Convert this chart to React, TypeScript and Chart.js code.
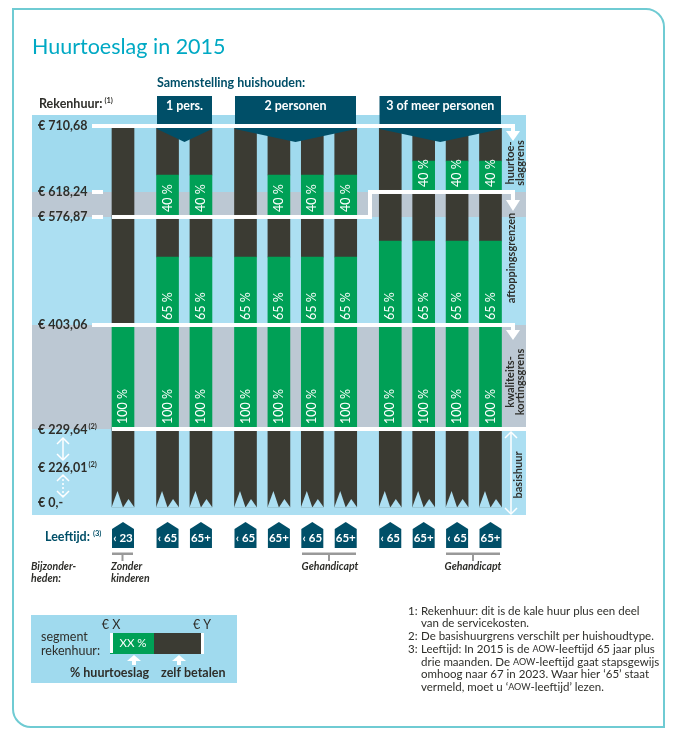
import React, { useEffect, useRef } from "react";
import { Chart, registerables, LinearScale } from "chart.js";

Chart.register(...registerables);

// ---- data ----
const categories = [
  "< 23", "", "", "",
  "< 65", "", "", "65+", "", "", "",
  "< 65", "", "", "65+", "", "", "< 65 G", "", "", "65+ G", "", "", "",
  "< 65", "", "", "65+", "", "", "< 65 G", "", "", "65+ G",
];
const ageLabels = ["‹ 23", "‹ 65", "65+", "‹ 65", "65+", "‹ 65", "65+", "‹ 65", "65+", "‹ 65", "65+"];

const TOP = 710.68, KWAL = 403.06, BASIS = 229.64, AF1 = 576.87, AF2 = 618.24;
const G65A = 512.5, G65B = 538.2, G40A = 642, G40B = 661.6;
type R = [number, number] | null;

const basisRent: R[] = [[0, BASIS], [0, BASIS], [0, BASIS], [0, BASIS], [0, BASIS], [0, BASIS], [0, BASIS], [0, BASIS], [0, BASIS], [0, BASIS], [0, BASIS]];
const pct100: R[] = [[BASIS, KWAL], [BASIS, KWAL], [BASIS, KWAL], [BASIS, KWAL], [BASIS, KWAL], [BASIS, KWAL], [BASIS, KWAL], [BASIS, KWAL], [BASIS, KWAL], [BASIS, KWAL], [BASIS, KWAL]];
const pct65: R[] = [null, [KWAL, G65A], [KWAL, G65A], [KWAL, G65A], [KWAL, G65A], [KWAL, G65A], [KWAL, G65A], [KWAL, G65B], [KWAL, G65B], [KWAL, G65B], [KWAL, G65B]];
const selfMid: R[] = [[KWAL, TOP], [G65A, AF1], [G65A, AF1], [G65A, TOP], [G65A, AF1], [G65A, AF1], [G65A, AF1], [G65B, TOP], [G65B, AF2], [G65B, AF2], [G65B, AF2]];
const pct40: R[] = [null, [AF1, G40A], [AF1, G40A], null, [AF1, G40A], [AF1, G40A], [AF1, G40A], null, [AF2, G40B], [AF2, G40B], [AF2, G40B]];
const selfTop: R[] = [null, [G40A, TOP], [G40A, TOP], null, [G40A, TOP], [G40A, TOP], [G40A, TOP], null, [G40B, TOP], [G40B, TOP], [G40B, TOP]];

// the rent axis of the picture is schematic: value -> fraction of its height
const axisValues = [0, BASIS, KWAL, AF1, AF2, TOP];
const axisFractions = [0, 0.2047, 0.4777, 0.7612, 0.8268, 1];

const footnotes: [string, string[]][] = [
  ["1:", ["Rekenhuur: dit is de kale huur plus een deel", "van de servicekosten."]],
  ["2:", ["De basishuurgrens verschilt per huishoudtype."]],
  ["3:", ["Leeftijd: In 2015 is de |AOW|-leeftijd 65 jaar plus", "drie maanden. De |AOW|-leeftijd gaat stapsgewijs", "omhoog naar 67 in 2023. Waar hier ‘65’ staat", "vermeld, moet u ‘|AOW|-leeftijd’ lezen."]],
];

const spread = (vals: R[]) => {
  let i = 0;
  return categories.map((c) => (c ? vals[i++] : null));
};

class RentScale extends LinearScale {
  static id = "rent";
  static defaults = {};
  getPixelForValue(v: number) {
    if (v === null || v === undefined) return NaN;
    let i = 0;
    while (i < axisValues.length - 2 && v > axisValues[i + 1]) i++;
    const t = (v - axisValues[i]) / (axisValues[i + 1] - axisValues[i]);
    const f = axisFractions[i] + t * (axisFractions[i + 1] - axisFractions[i]);
    return this.bottom - f * (this.bottom - this.top);
  }
}
Chart.register(RentScale as any);

const FF = 'Lato, "Noto Sans", sans-serif';
const DARK = "#3b3b33";
const GREEN = "#00a056";
const NAVY = "#004f68";
const LIGHT = "#acdff2";
const BLUE2 = "#a0daee";
const GREY = "#bcc8d3";
const INK = "#2e2e2a";

function txt(c: CanvasRenderingContext2D, s: string, x: number, y: number, font: string, color: string, align: CanvasTextAlign = "left") {
  c.font = font;
  c.fillStyle = color;
  c.textAlign = align;
  c.textBaseline = "middle";
  c.fillText(s, x, y);
  return c.measureText(s).width;
}
function rot(c: CanvasRenderingContext2D, s: string, x: number, y: number, font: string, color: string, align: CanvasTextAlign = "center") {
  c.save();
  c.translate(x, y);
  c.rotate(-Math.PI / 2);
  txt(c, s, 0, 0, font, color, align);
  c.restore();
}
function rect(c: CanvasRenderingContext2D, x: number, y: number, w: number, h: number, color: string) {
  c.fillStyle = color;
  c.fillRect(x, y, w, h);
}
function poly(c: CanvasRenderingContext2D, pts: number[][], color: string) {
  c.fillStyle = color;
  c.beginPath();
  pts.forEach((p, i) => (i ? c.lineTo(p[0], p[1]) : c.moveTo(p[0], p[1])));
  c.closePath();
  c.fill();
}
function downArrow(c: CanvasRenderingContext2D, x: number, from: number, baseY: number, tip: number) {
  rect(c, x - 2, from, 4, baseY - from, "#fff");
  poly(c, [[x - 7, baseY], [x + 7, baseY], [x, tip]], "#fff");
}
function chevronArrow(c: CanvasRenderingContext2D, x: number, y1: number, y2: number, dashed: boolean, w = 6) {
  c.strokeStyle = "#fff";
  c.lineWidth = 1.5;
  c.beginPath();
  c.moveTo(x - w, y1 + w);
  c.lineTo(x, y1);
  c.lineTo(x + w, y1 + w);
  c.moveTo(x - w, y2 - w);
  c.lineTo(x, y2);
  c.lineTo(x + w, y2 - w);
  c.stroke();
  c.setLineDash(dashed ? [2, 2] : []);
  c.beginPath();
  c.moveTo(x, y1);
  c.lineTo(x, y2);
  c.stroke();
  c.setLineDash([]);
}

const backdrop = {
  id: "backdrop",
  beforeDatasetsDraw(chart: any) {
    const c: CanvasRenderingContext2D = chart.ctx;
    const y = chart.scales.y;
    c.save();
    // page frame
    c.strokeStyle = "#6fcbd3";
    c.lineWidth = 2;
    c.beginPath();
    c.moveTo(31, 727);
    c.lineTo(664, 727);
    c.lineTo(664, 27);
    c.arcTo(664, 9, 646, 9, 18);
    c.lineTo(13, 9);
    c.lineTo(13, 709);
    c.arcTo(13, 727, 31, 727, 18);
    c.stroke();
    // panel
    const px = 32, pw = 494;
    rect(c, px, 115, pw, 400, LIGHT);
    rect(c, px, 115, pw, y.getPixelForValue(AF2) - 115, BLUE2);
    rect(c, px, y.getPixelForValue(AF2), pw, y.getPixelForValue(AF1) - y.getPixelForValue(AF2), GREY);
    rect(c, px, y.getPixelForValue(KWAL), pw, y.getPixelForValue(BASIS) - y.getPixelForValue(KWAL), GREY);
    c.restore();
  },
};

const overlay = {
  id: "overlay",
  afterDatasetsDraw(chart: any) {
    const c: CanvasRenderingContext2D = chart.ctx;
    const y = chart.scales.y;
    const Y = (v: number) => y.getPixelForValue(v);
    const ds = chart.data.datasets;
    c.save();

    // torn bar bottoms + age houses
    let col = 0;
    chart.getDatasetMeta(0).data.forEach((e: any, i: number) => {
      if (!categories[i]) return;
      const l = e.x - 11, w = 22, b = Y(0);
      poly(c, [[l - 0.5, b + 0.5], [l + w * 0.25, b - 16], [l + w * 0.5, b + 0.5]], LIGHT);
      poly(c, [[l + w * 0.5, b + 0.5], [l + w * 0.75, b - 8], [l + w + 0.5, b + 0.5]], LIGHT);
      poly(c, [[l, 529], [e.x, 522], [l + w, 529], [l + w, 548], [l, 548]], NAVY);
      txt(c, ageLabels[col], e.x, 538, `bold 11.5px ${FF}`, "#fff", "center");
      col++;
    });

    // percentages in the green segments
    ds.forEach((d: any, di: number) => {
      if (!d.pct) return;
      chart.getDatasetMeta(di).data.forEach((e: any, i: number) => {
        const raw = d.data[i];
        if (!raw) return;
        rot(c, d.pct, e.x, Y(raw[0]) - 5, `12.5px ${FF}`, "#fff", "left");
      });
    });

    // white limit lines
    const ty = Y(TOP), ky = Y(KWAL), by = Y(BASIS), a1 = Y(AF1), a2 = Y(AF2);
    rect(c, 92, a2 - 2, 11, 4, "#fff");
    rect(c, 92, a1 - 2, 11, 4, "#fff");
    rect(c, 112, a1 - 2, 260, 4, "#fff");
    rect(c, 368, a2 - 2, 4, a1 - a2 + 4, "#fff");
    rect(c, 368, a2 - 2, 147, 4, "#fff");
    downArrow(c, 513, a2, a2 + 8, a2 + 19);
    rect(c, 92, ky - 2, 423, 4, "#fff");
    downArrow(c, 513, ky, ky + 5, ky + 15);
    rect(c, 112, by - 2, 414, 4, "#fff");

    // household headers
    const headers: [number, number, string][] = [[157, 212, "1 pers."], [235, 356, "2 personen"], [379.5, 501, "3 of meer personen"]];
    headers.forEach(([l, r, s]) => {
      poly(c, [[l, 96], [r, 96], [r, 129], [(l + r) / 2, 142], [l, 129]], NAVY);
      txt(c, s, (l + r) / 2, 105.5, `bold 12.5px ${FF}`, "#fff", "center");
    });
    rect(c, 92, ty - 2, 423, 4, "#fff");
    downArrow(c, 513, ty, ty + 5, ty + 15);

    // rent labels
    const bold = `bold 12.5px ${FF}`;
    const small = `bold 7.5px ${FF}`;
    const rentLab = (s: string, yy: number, sup?: string) => {
      const w = txt(c, s, 38, yy, bold, INK);
      if (sup) txt(c, sup, 38 + w + 1, yy - 3, small, INK);
    };
    rentLab("€ 710,68", ty);
    rentLab("€ 618,24", a2);
    rentLab("€ 576,87", a1);
    rentLab("€ 403,06", ky);
    rentLab("€ 229,64", by + 1, "(2)");
    rentLab("€ 226,01", 468, "(2)");
    rentLab("€ 0,-", 503);
    chevronArrow(c, 63, 438, 460, false);
    chevronArrow(c, 63, 475, 497, true);

    let w = txt(c, "Rekenhuur:", 39, 104, bold, INK);
    txt(c, "(1)", 39 + w + 2, 101, small, INK);
    txt(c, "Samenstelling huishouden:", 157, 83, bold, NAVY);
    txt(c, "Huurtoeslag in 2015", 32, 47, `21.5px ${FF}`, "#00a9c4");

    // right-hand vertical labels
    const side = `bold 11px ${FF}`;
    rot(c, "huurtoe-", 510, 163, side, INK);
    rot(c, "slaggrens", 520, 163, side, INK);
    rot(c, "aftoppingsgrenzen", 511, 258, side, INK);
    rot(c, "kwaliteits-", 510, 382, side, INK);
    rot(c, "kortingsgrens", 520, 382, side, INK);
    rot(c, "basishuur", 518, 475, side, INK);
    chevronArrow(c, 511, by + 3, 514, false);

    // age row
    w = txt(c, "Leeftijd:", 45, 537, bold, NAVY);
    txt(c, "(3)", 45 + w + 3, 534, small, NAVY);
    const it = `italic bold 10.5px ${FF}`;
    txt(c, "Bijzonder-", 31, 567, it, INK);
    txt(c, "heden:", 31, 579, it, INK);
    txt(c, "Zonder", 111, 567, it, INK);
    txt(c, "kinderen", 111, 579, it, INK);
    const bracket = (l: number, r: number) => {
      rect(c, l, 552.5, r - l, 2.5, "#999");
      rect(c, (l + r) / 2 - 1, 553, 2, 8, "#999");
    };
    bracket(112, 133);
    bracket(302, 356);
    bracket(446, 500);
    txt(c, "Gehandicapt", 330, 567, it, INK, "center");
    txt(c, "Gehandicapt", 473, 567, it, INK, "center");

    // key
    rect(c, 31, 615, 206, 68, BLUE2);
    rect(c, 110, 633, 44, 21, GREEN);
    rect(c, 154, 633, 50, 21, DARK);
    rect(c, 110, 633, 3, 20, "#fff");
    rect(c, 201, 633, 3, 21, "#fff");
    const reg = `12.5px ${FF}`;
    txt(c, "€ X", 111, 625, reg, INK, "center");
    txt(c, "€ Y", 202, 625, reg, INK, "center");
    txt(c, "segment", 41, 637, reg, INK);
    txt(c, "rekenhuur:", 41, 651, reg, INK);
    txt(c, "XX %", 133, 643, `11.5px ${FF}`, "#fff", "center");
    poly(c, [[134, 655], [141, 661], [127, 661]], "#fff");
    rect(c, 132, 661, 4, 4, "#fff");
    poly(c, [[179, 655], [186, 661], [172, 661]], "#fff");
    rect(c, 177, 661, 4, 4, "#fff");
    txt(c, "% huurtoeslag", 70, 672.5, bold, INK);
    txt(c, "zelf betalen", 161, 672.5, bold, INK);

    // footnotes
    const note = `11.5px ${FF}`;
    const noteSmall = `9px ${FF}`;
    let ly = 611;
    footnotes.forEach(([n, lines]) => {
      txt(c, n, 408, ly, note, INK);
      lines.forEach((line) => {
        let x = 421;
        line.split("|").forEach((part, i) => {
          x += txt(c, part, x, ly, i % 2 ? noteSmall : note, INK);
        });
        ly += 12.7;
      });
    });
    c.restore();
  },
};

export default function App() {
  const ref = useRef<HTMLCanvasElement>(null);
  useEffect(() => {
    const base = { clip: false as const, barThickness: 22, borderWidth: 0 };
    const chart = new Chart(ref.current as HTMLCanvasElement, {
      type: "bar",
      data: {
        labels: categories,
        datasets: [
          { label: "basishuur", data: spread(basisRent), backgroundColor: DARK, ...base },
          { label: "100 %", pct: "100 %", data: spread(pct100), backgroundColor: GREEN, ...base },
          { label: "65 %", pct: "65 %", data: spread(pct65), backgroundColor: GREEN, ...base },
          { label: "zelf betalen", data: spread(selfMid), backgroundColor: DARK, ...base },
          { label: "40 %", pct: "40 %", data: spread(pct40), backgroundColor: GREEN, ...base },
          { label: "zelf betalen boven", data: spread(selfTop), backgroundColor: DARK, ...base },
        ] as any,
      },
      options: {
        responsive: false,
        animation: false,
        layout: { padding: { left: 123, right: 182.5, top: 126, bottom: 228 } },
        plugins: { legend: { display: false }, tooltip: { enabled: false }, title: { display: false } },
        scales: {
          x: { type: "category", display: false, offset: false, stacked: true, grid: { display: false } },
          y: { type: "rent" as any, display: false, min: 0, max: TOP, grid: { display: false } },
        },
      },
      plugins: [backdrop, overlay],
    });
    return () => chart.destroy();
  }, []);
  return (
    <div style={{ position: "absolute", left: 0, top: 0, width: 673, height: 735, background: "#fff" }}>
      <canvas ref={ref} width={673} height={735} style={{ display: "block" }} />
    </div>
  );
}
